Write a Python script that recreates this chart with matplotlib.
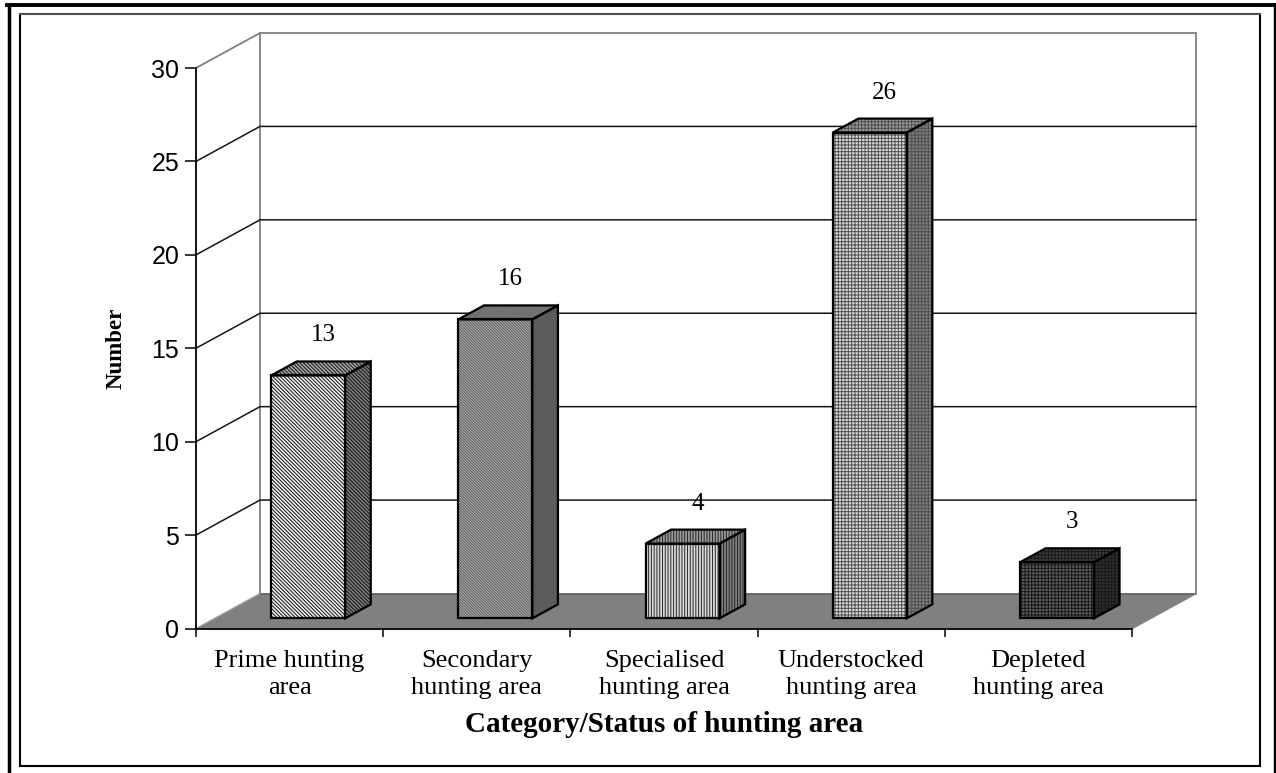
import matplotlib
matplotlib.use("Agg")
import matplotlib.pyplot as plt
from matplotlib.patches import Polygon
from matplotlib.lines import Line2D

# Survey counts per hunting-area category
categories = [
    "Prime hunting\narea",
    "Secondary\nhunting area",
    "Specialised\nhunting area",
    "Understocked\nhunting area",
    "Depleted\nhunting area",
]
values = [13, 16, 4, 26, 3]
y_ticks = [0, 5, 10, 15, 20, 25, 30]

# Fill style for each bar: (front, side, top, hatch colour, hatch)
bar_styles = [
    ("#f0f0f0", "#7c7c7c", "#a8a8a8", "#101010", "\\" * 9),
    ("#b0b0b0", "#5c5c5c", "#888888", "#5c5c5c", "\\" * 12),
    ("#d8d8d8", "#7c7c7c", "#989898", "#282828", "|" * 6),
    ("#d8d8d8", "#7c7c7c", "#989898", "#505050", "+" * 5),
    ("#5c5c5c", "#303030", "#404040", "#181818", "+" * 5),
]

W, H = 1276, 773
plt.rcParams["hatch.linewidth"] = 0.7
SERIF = "Liberation Serif"
SANS = "Liberation Sans"

fig = plt.figure(figsize=(W / 100, H / 100), dpi=100, facecolor="white")


def fx(px):
    return px / W


def fy(py):
    return 1 - py / H


# Outer page frame and inner chart frame
fig.add_artist(Line2D([fx(8.5)] * 2, [0, fy(5)], color="black", lw=2.5))
fig.add_artist(Line2D([fx(7), fx(1276)], [fy(5)] * 2, color="black", lw=2.8))
fig.add_artist(Line2D([fx(1274.5)] * 2, [0, fy(5)], color="black", lw=2.5))
fig.add_artist(Line2D([fx(20)] * 2, [fy(14), fy(765.5)], color="black", lw=1.5))
fig.add_artist(Line2D([fx(20), fx(1260)], [fy(765.5)] * 2, color="black", lw=1.5))
fig.add_artist(Line2D([fx(1260)] * 2, [fy(14), fy(765.5)], color="black", lw=1.5))
fig.add_artist(Line2D([fx(20), fx(1260)], [fy(14)] * 2, color="#505050", lw=1.5))

# Plot box is the front plane of the chart
x_left, x_right, y_top, y_base = 196, 1132, 68, 628.5
ax = fig.add_axes([fx(x_left), fy(y_base), fx(x_right - x_left), (y_base - y_top) / H])
ax.set_xlim(0, len(categories))
ax.set_ylim(y_ticks[0], y_ticks[-1])
ax.patch.set_visible(False)

# Depth of the oblique projection, in data units per unit of depth
unit_x = (x_right - x_left) / len(categories)
unit_y = (y_base - y_top) / y_ticks[-1]
DX = 64 / unit_x
DY = 35 / unit_y


def proj(x, v, d):
    return (x + d * DX, v + d * DY)


# Floor
ax.add_patch(Polygon([proj(0, 0, 0), proj(5, 0, 0), proj(5, 0, 1), proj(0, 0, 1)],
                     closed=True, fc="#808080", ec="none", zorder=1, clip_on=False))
ax.plot(*zip(proj(0, 0, 1), proj(5, 0, 1)), color="#606060", lw=1.2, zorder=1.5, clip_on=False)
ax.plot(*zip(proj(5, 0, 0), proj(5, 0, 1)), color="#808080", lw=1.2, zorder=1.5, clip_on=False)
ax.plot(*zip(proj(0, 0, 0), proj(0, 0, 1)), color="#a0a0a0", lw=0.9, zorder=1.5, clip_on=False)

# Wall edges
for a, b in [
    (proj(0, 0, 1), proj(0, 30, 1)),
    (proj(5, 0, 1), proj(5, 30, 1)),
    (proj(0, 30, 1), proj(5, 30, 1)),
    (proj(0, 30, 0), proj(0, 30, 1)),
]:
    ax.plot(*zip(a, b), color="#808080", lw=1.3, zorder=2, clip_on=False)

# Gridlines along the side wall and back wall
for v in y_ticks[1:-1]:
    ax.plot(*zip(proj(0, v, 0), proj(0, v, 1), proj(5, v, 1)),
            color="#141414", lw=1.1, zorder=2.5, clip_on=False)

# Bars
D0, D1 = 0.29, 0.69
BW = 0.395
for i, (v, st) in enumerate(zip(values, bar_styles)):
    front_c, side_c, top_c, hatch_c, hatch = st
    x0, x1 = i + 0.5 - BW / 2, i + 0.5 + BW / 2
    faces = [
        ([proj(x1, 0, D0), proj(x1, 0, D1), proj(x1, v, D1), proj(x1, v, D0)], side_c),
        ([proj(x0, v, D0), proj(x1, v, D0), proj(x1, v, D1), proj(x0, v, D1)], top_c),
        ([proj(x0, 0, D0), proj(x1, 0, D0), proj(x1, v, D0), proj(x0, v, D0)], front_c),
    ]
    for pts, col in faces:
        ax.add_patch(Polygon(pts, closed=True, fc=col, ec=hatch_c, lw=0, hatch=hatch,
                             zorder=3 + i * 0.01, clip_on=False))
        ax.add_patch(Polygon(pts, closed=True, fc="none", ec="black", lw=1.6, joinstyle="miter",
                             zorder=3.5 + i * 0.01, clip_on=False))
    lx, ly = proj(i + 0.5, v, (D0 + D1) / 2)
    ax.annotate(str(v), (lx, ly), xytext=(1.5, 23.8), textcoords="offset points",
                ha="center", va="center", family=SERIF, fontsize=18, color="black", zorder=5)

# Axes, ticks and labels
for s in ("top", "right"):
    ax.spines[s].set_visible(False)
for s in ("left", "bottom"):
    ax.spines[s].set_linewidth(1.3)
    ax.spines[s].set_zorder(4)
ax.set_yticks(y_ticks)
ax.tick_params(axis="y", length=8, width=1.1, pad=4, labelsize=18, labelfontfamily=SANS)
ax.set_xticks(range(len(categories) + 1))
ax.set_xticklabels([])
ax.tick_params(axis="x", which="major", length=6, width=1.1)
ax.set_xticks([i + 0.5 for i in range(len(categories))], minor=True)
ax.set_xticklabels(categories, minor=True, family=SERIF, fontsize=19, linespacing=1.32)
ax.tick_params(axis="x", which="minor", length=0, pad=15.5)

fig.text(fx(116.5), fy(348), "Number", rotation=90, ha="center", va="center",
         family=SERIF, fontweight="bold", fontsize=16.5)
fig.text(fx(664), fy(725), "Category/Status of hunting area", ha="center", va="center",
         family=SERIF, fontweight="bold", fontsize=21)

fig.savefig("out.png", dpi=100)
